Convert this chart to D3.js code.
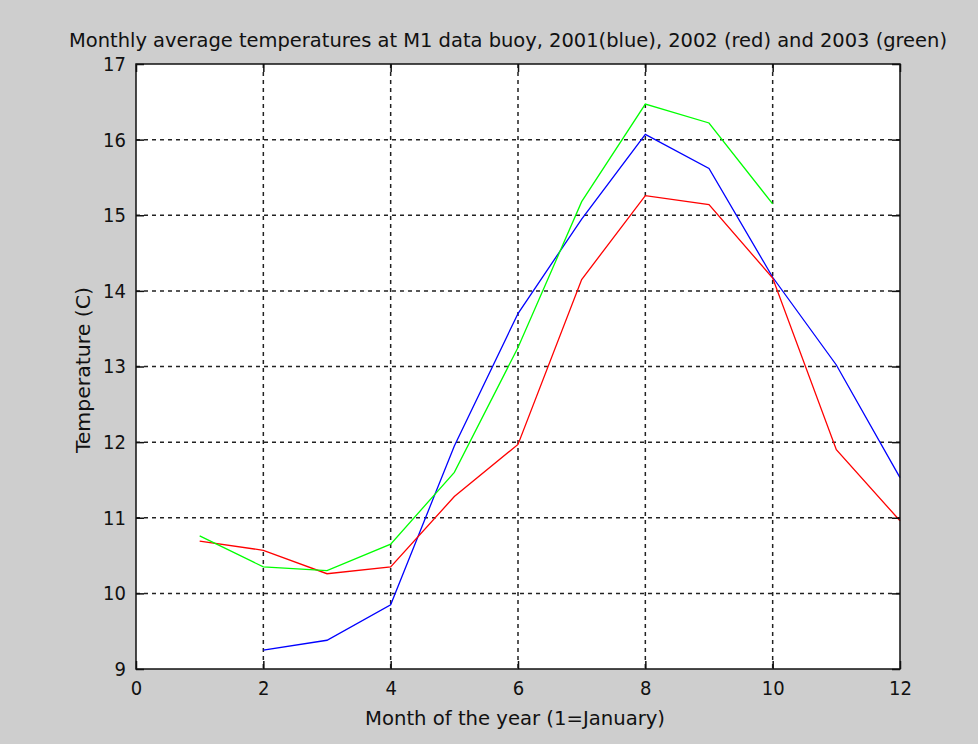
<!DOCTYPE html>
<html>
<head>
<meta charset="utf-8">
<script src="https://cdn.jsdelivr.net/npm/d3@7"></script>
<style>
  body { margin: 0; background: #cecece; }
  text { font-family: "DejaVu Sans Condensed", "DejaVu Sans", sans-serif; fill: #111; }
</style>
</head>
<body>
<svg id="chart" width="978" height="744"></svg>
<script>
let months = [1, 2, 3, 4, 5, 6, 7, 8, 9, 10, 11, 12]
let temps2001 = [null, 9.25, 9.38, 9.85, 11.95, 13.7, 14.95, 16.07, 15.62, 14.18, 13.02, 11.53]
let temps2002 = [10.69, 10.57, 10.26, 10.35, 11.28, 11.97, 14.15, 15.26, 15.14, 14.17, 11.9, 10.96]
let temps2003 = [10.76, 10.35, 10.3, 10.65, 11.6, 13.25, 15.18, 16.47, 16.22, 15.15, null, null]
let xTicks = [0, 2, 4, 6, 8, 10, 12]
let yTicks = [9, 10, 11, 12, 13, 14, 15, 16, 17]

function main() {
    let svg = d3.select('#chart'),
        margin = {top: 64, bottom: 75, left: 136, right: 78},
        w = +svg.attr('width'),
        h = +svg.attr('height'),
        width = w - margin.left - margin.right,
        height = h - margin.top - margin.bottom,
        font = '"DejaVu Sans Condensed", "DejaVu Sans", sans-serif'

    svg.append('rect').attr('width', w).attr('height', h).attr('fill', '#cecece')

    let x = d3.scaleLinear().domain([0, 12]).range([margin.left, margin.left + width])
    let y = d3.scaleLinear().domain([9, 17]).range([margin.top + height, margin.top])

    svg.append('rect')
        .attr('x', margin.left).attr('y', margin.top)
        .attr('width', width).attr('height', height)
        .attr('fill', 'white')

    // dashed grid
    let grid = svg.append('g').attr('stroke', '#222').attr('stroke-width', 1.5).attr('stroke-dasharray', '4,4')
    grid.selectAll('.gx').data(xTicks.slice(1, -1)).enter().append('line')
        .attr('x1', d => x(d)).attr('x2', d => x(d))
        .attr('y1', margin.top).attr('y2', margin.top + height)
    grid.selectAll('.gy').data(yTicks.slice(1, -1)).enter().append('line')
        .attr('y1', d => y(d)).attr('y2', d => y(d))
        .attr('x1', margin.left).attr('x2', margin.left + width)

    // series
    let series = [
        {vals: temps2001, color: '#0000ff'},
        {vals: temps2002, color: '#ff0000'},
        {vals: temps2003, color: '#00ff00'}
    ]
    let line = d3.line()
        .defined(d => d.v != null)
        .x(d => x(d.m))
        .y(d => y(d.v))
    series.forEach(s => {
        svg.append('path')
            .datum(months.map((m, i) => ({m: m, v: s.vals[i]})))
            .attr('d', line)
            .attr('fill', 'none')
            .attr('stroke', s.color)
            .attr('stroke-width', 1.3)
    })

    // axes with inward ticks, mirrored on top and right
    let axisStyle = g => {
        g.select('.domain').remove()
        g.selectAll('.tick line').attr('stroke', '#111').attr('stroke-width', 1.5)
        g.selectAll('text').attr('font-size', 20).attr('fill', '#111').attr('font-family', font)
    }
    svg.append('g')
        .attr('transform', 'translate(0,' + (margin.top + height) + ')')
        .call(d3.axisBottom(x).tickValues(xTicks).tickSize(-8).tickPadding(12))
        .call(axisStyle)
    svg.append('g')
        .attr('transform', 'translate(0,' + margin.top + ')')
        .call(d3.axisTop(x).tickValues(xTicks).tickSize(-8).tickFormat(''))
        .call(axisStyle)
    svg.append('g')
        .attr('transform', 'translate(' + margin.left + ',0)')
        .call(d3.axisLeft(y).tickValues(yTicks).tickSize(-8).tickPadding(10))
        .call(axisStyle)
    svg.append('g')
        .attr('transform', 'translate(' + (margin.left + width) + ',0)')
        .call(d3.axisRight(y).tickValues(yTicks).tickSize(-8).tickFormat(''))
        .call(axisStyle)

    svg.append('rect')
        .attr('x', margin.left).attr('y', margin.top)
        .attr('width', width).attr('height', height)
        .attr('fill', 'none').attr('stroke', '#111').attr('stroke-width', 1.5)

    svg.append('text')
        .attr('x', 508).attr('y', 47)
        .attr('text-anchor', 'middle')
        .attr('font-size', 20)
        .attr('textLength', 878).attr('lengthAdjust', 'spacingAndGlyphs')
        .text('Monthly average temperatures at M1 data buoy, 2001(blue), 2002 (red) and 2003 (green)')

    svg.append('text')
        .attr('x', 515).attr('y', 725)
        .attr('text-anchor', 'middle')
        .attr('font-size', 20)
        .attr('textLength', 300).attr('lengthAdjust', 'spacingAndGlyphs')
        .text('Month of the year (1=January)')

    svg.append('text')
        .attr('transform', 'translate(90,370) rotate(-90)')
        .attr('text-anchor', 'middle')
        .attr('font-size', 20)
        .attr('textLength', 166).attr('lengthAdjust', 'spacingAndGlyphs')
        .text('Temperature (C)')
}

main()
</script>
</body>
</html>
